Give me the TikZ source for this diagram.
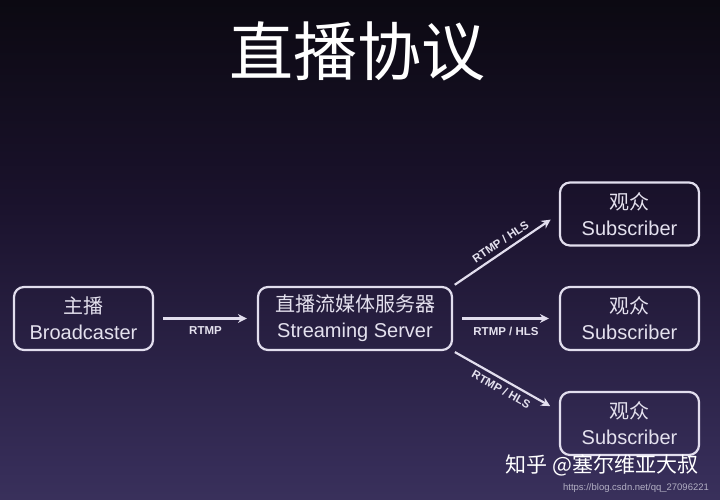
\documentclass[tikz,border=0pt]{standalone}
\usepackage{fontspec}
\setmainfont{Liberation Sans}
\newfontfamily\cjk{Noto Sans CJK SC}
\usepackage{xcolor}
\definecolor{bgtop}{RGB}{8, 7, 11}
\definecolor{bgmid}{RGB}{26, 18, 44}
\definecolor{bglow}{RGB}{54, 45, 88}
\definecolor{bgbot}{RGB}{84, 78, 118}
\definecolor{boxline}{RGB}{226, 222, 238}
\definecolor{boxtext}{RGB}{228, 225, 238}
\definecolor{urlgray}{RGB}{178, 175, 195}
\usepackage{tikz}
\usetikzlibrary{arrows.meta, positioning, calc}
\pgfdeclareverticalshading{stagebg}{100bp}{color(0bp)=(bgbot); color(28bp)=(bglow); color(55bp)=(bgmid); color(80bp)=(bgtop); color(100bp)=(bgtop)}

\begin{document}
\begin{tikzpicture}[x=1pt, y=-1pt, >={Stealth[length=9pt, width=9pt]},
    box/.style={draw=boxline, line width=2.2pt, rounded corners=10pt, text=boxtext, align=center,
        minimum height=63pt, font=\fontsize{20}{26}\selectfont},
    link/.style={->, line width=2.2pt, draw=boxline, shorten <=9pt, shorten >=10pt},
    proto/.style={text=boxtext, font=\bfseries\fontsize{11.5}{13}\selectfont}]
    % background
    \shade[shading=stagebg] (0, 0) rectangle (720, 500);

    \node[text=white, font=\cjk\fontsize{64}{70}\selectfont] (title) at (357, 51) {直播协议};

    % boxes
    \node[box, minimum width=139pt] (caster) at (83.5, 318.5) {{\cjk 主播}\\Broadcaster};
    \node[box, minimum width=194pt] (server) at (355, 318.5) {{\cjk 直播流媒体服务器}\\Streaming Server};
    \node[box, minimum width=139pt] (subA) at (629.5, 214) {{\cjk 观众}\\Subscriber};
    \node[box, minimum width=139pt] (subB) at (629.5, 318.5) {{\cjk 观众}\\Subscriber};
    \node[box, minimum width=139pt] (subC) at (629.5, 423.5) {{\cjk 观众}\\Subscriber};

    % links
    \draw[link] (caster) -- (server) node[proto, midway, below=4pt] {RTMP};
    \draw[link, shorten <=2pt] (server.north east) -- (subA.west) node[proto, midway, sloped, above=1pt] {RTMP / HLS};
    \draw[link] (server) -- (subB) node[proto, midway, below=4pt] {RTMP / HLS};
    \draw[link, shorten <=2pt] (server.south east) -- (subC.170) node[proto, midway, sloped, below=1pt] {RTMP / HLS};

    % watermark
    \node[text=white, font=\cjk\fontsize{21}{24}\selectfont] (mark) at (602, 465) {知乎 @塞尔维亚大叔};
    \node[text=urlgray, font=\fontsize{9.5}{11}\selectfont] (url) at (636, 488) {https://blog.csdn.net/qq\_27096221};
\end{tikzpicture}
\end{document}
